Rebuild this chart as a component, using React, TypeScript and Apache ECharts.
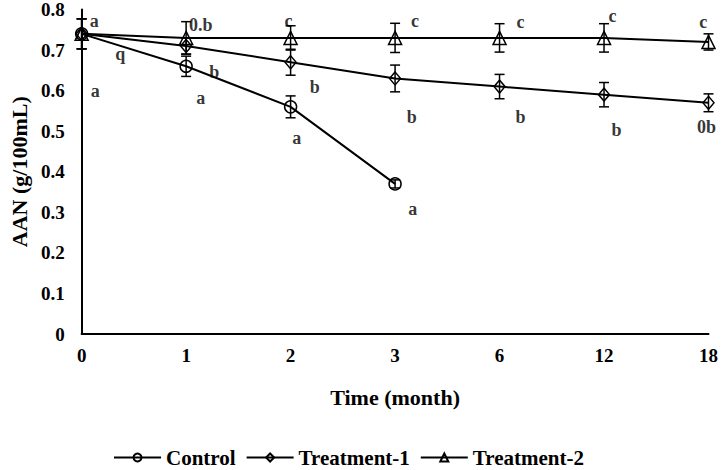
import React, { useEffect, useRef } from "react";
import * as echarts from "echarts";

const timeLabels = ["0", "1", "2", "3", "6", "12", "18"];
const controlValues = [0.74, 0.66, 0.56, 0.37];
const controlErrors = [0.037, 0.025, 0.027, 0.01];
const treatment1Values = [0.74, 0.71, 0.67, 0.63, 0.61, 0.59, 0.57];
const treatment1Errors = [0.037, 0.02, 0.032, 0.033, 0.03, 0.03, 0.022];
const treatment2Values = [0.74, 0.73, 0.73, 0.73, 0.73, 0.73, 0.72];
const treatment2Errors = [0.037, 0.04, 0.03, 0.036, 0.035, 0.035, 0.02];

// significance letters: [x position (category index), y value, text]
const letterNotes: [number, number, string][] = [
  [0.12, 0.772, "a"],
  [0.13, 0.598, "a"],
  [0.37, 0.69, "q"],
  [1.14, 0.763, "0.b"],
  [1.27, 0.645, "b"],
  [1.14, 0.581, "a"],
  [1.98, 0.772, "c"],
  [2.23, 0.608, "b"],
  [2.06, 0.482, "a"],
  [3.19, 0.772, "c"],
  [3.16, 0.534, "b"],
  [3.17, 0.308, "a"],
  [4.2, 0.77, "c"],
  [4.2, 0.534, "b"],
  [5.08, 0.785, "c"],
  [5.12, 0.502, "b"],
  [5.95, 0.768, "c"],
  [5.98, 0.51, "0b"],
];

const FONT = "'Liberation Serif', 'Times New Roman', serif";

function errorData(values: number[], errors: number[]) {
  return values.map((v, i) => [i, v - errors[i], v + errors[i]]);
}

function errorSeries(values: number[], errors: number[]) {
  return {
    type: "custom",
    silent: true,
    z: 3,
    data: errorData(values, errors),
    encode: { x: 0, y: [1, 2] },
    renderItem: (params: any, api: any) => {
      const x = api.value(0);
      const lo = api.value(1);
      const hi = api.value(2);
      const top = api.coord([x, hi]);
      const bot = api.coord([x, lo]);
      const w = 5;
      const style = { stroke: "#000", lineWidth: 1.5 };
      return {
        type: "group",
        children: [
          { type: "line", shape: { x1: top[0], y1: top[1], x2: bot[0], y2: bot[1] }, style },
          { type: "line", shape: { x1: top[0] - w, y1: top[1], x2: top[0] + w, y2: top[1] }, style },
          { type: "line", shape: { x1: bot[0] - w, y1: bot[1], x2: bot[0] + w, y2: bot[1] }, style },
        ],
      };
    },
  };
}

function lineSeries(name: string, values: number[], symbol: string, size: any) {
  return {
    name,
    type: "line",
    z: 4,
    data: values.map((v, i) => [i, v]),
    symbol,
    symbolSize: size,
    showAllSymbol: true,
    lineStyle: { color: "#000", width: 2 },
    itemStyle: { color: "rgba(0,0,0,0)", borderColor: "#000", borderWidth: 1.5 },
  };
}

export default function App() {
  const ref = useRef<HTMLDivElement>(null);
  useEffect(() => {
    document.body.style.margin = "0";
    if (!ref.current) return;
    const chart = echarts.init(ref.current, null, { renderer: "svg" });
    chart.setOption({
      animation: false,
      backgroundColor: "#fff",
      grid: { left: 76, right: 11, top: 9, bottom: 136 },
      xAxis: {
        type: "value",
        min: 0,
        max: 6,
        interval: 1,
        name: "Time (month)",
        nameLocation: "middle",
        nameGap: 52,
        nameTextStyle: { fontFamily: FONT, fontWeight: "bold", fontSize: 22, color: "#000" },
        axisLine: { show: true, lineStyle: { color: "#000", width: 2 } },
        axisTick: { show: false },
        splitLine: { show: false },
        axisLabel: {
          formatter: (v: number) => timeLabels[v] ?? "",
          fontFamily: FONT,
          fontWeight: "bold",
          fontSize: 19,
          color: "#000",
          margin: 12,
        },
      },
      yAxis: {
        type: "value",
        min: 0,
        max: 0.8,
        interval: 0.1,
        name: "AAN (g/100mL)",
        nameLocation: "middle",
        nameGap: 50,
        nameTextStyle: { fontFamily: FONT, fontWeight: "bold", fontSize: 22, color: "#000" },
        axisLine: { show: true, lineStyle: { color: "#000", width: 2 } },
        axisTick: { show: false },
        splitLine: { show: false },
        axisLabel: {
          fontFamily: FONT,
          fontWeight: "bold",
          fontSize: 19,
          color: "#000",
          margin: 17,
        },
      },
      legend: {
        data: ["Control", "Treatment-1", "Treatment-2"],
        top: 447,
        left: 113,
        padding: 0,
        itemWidth: 47,
        itemHeight: 10,
        itemGap: 10,
        textStyle: {
          fontFamily: FONT,
          fontWeight: "bold",
          fontSize: 21,
          lineHeight: 20,
          color: "#000",
        },
      },
      series: [
        errorSeries(controlValues, controlErrors),
        errorSeries(treatment1Values, treatment1Errors),
        errorSeries(treatment2Values, treatment2Errors),
        lineSeries("Control", controlValues, "circle", 12),
        lineSeries("Treatment-1", treatment1Values, "diamond", [11, 13]),
        lineSeries("Treatment-2", treatment2Values, "triangle", 13),
        {
          type: "scatter",
          silent: true,
          z: 5,
          symbolSize: 1,
          itemStyle: { color: "rgba(0,0,0,0)" },
          data: letterNotes.map(([x, y, t]) => ({ value: [x, y], name: t })),
          label: {
            show: true,
            position: "inside",
            formatter: "{b}",
            fontFamily: FONT,
            fontWeight: "bold",
            fontSize: 18,
            color: "#000",
          },
        },
      ],
    });
    return () => chart.dispose();
  }, []);
  return <div ref={ref} style={{ width: 721, height: 470 }} />;
}
